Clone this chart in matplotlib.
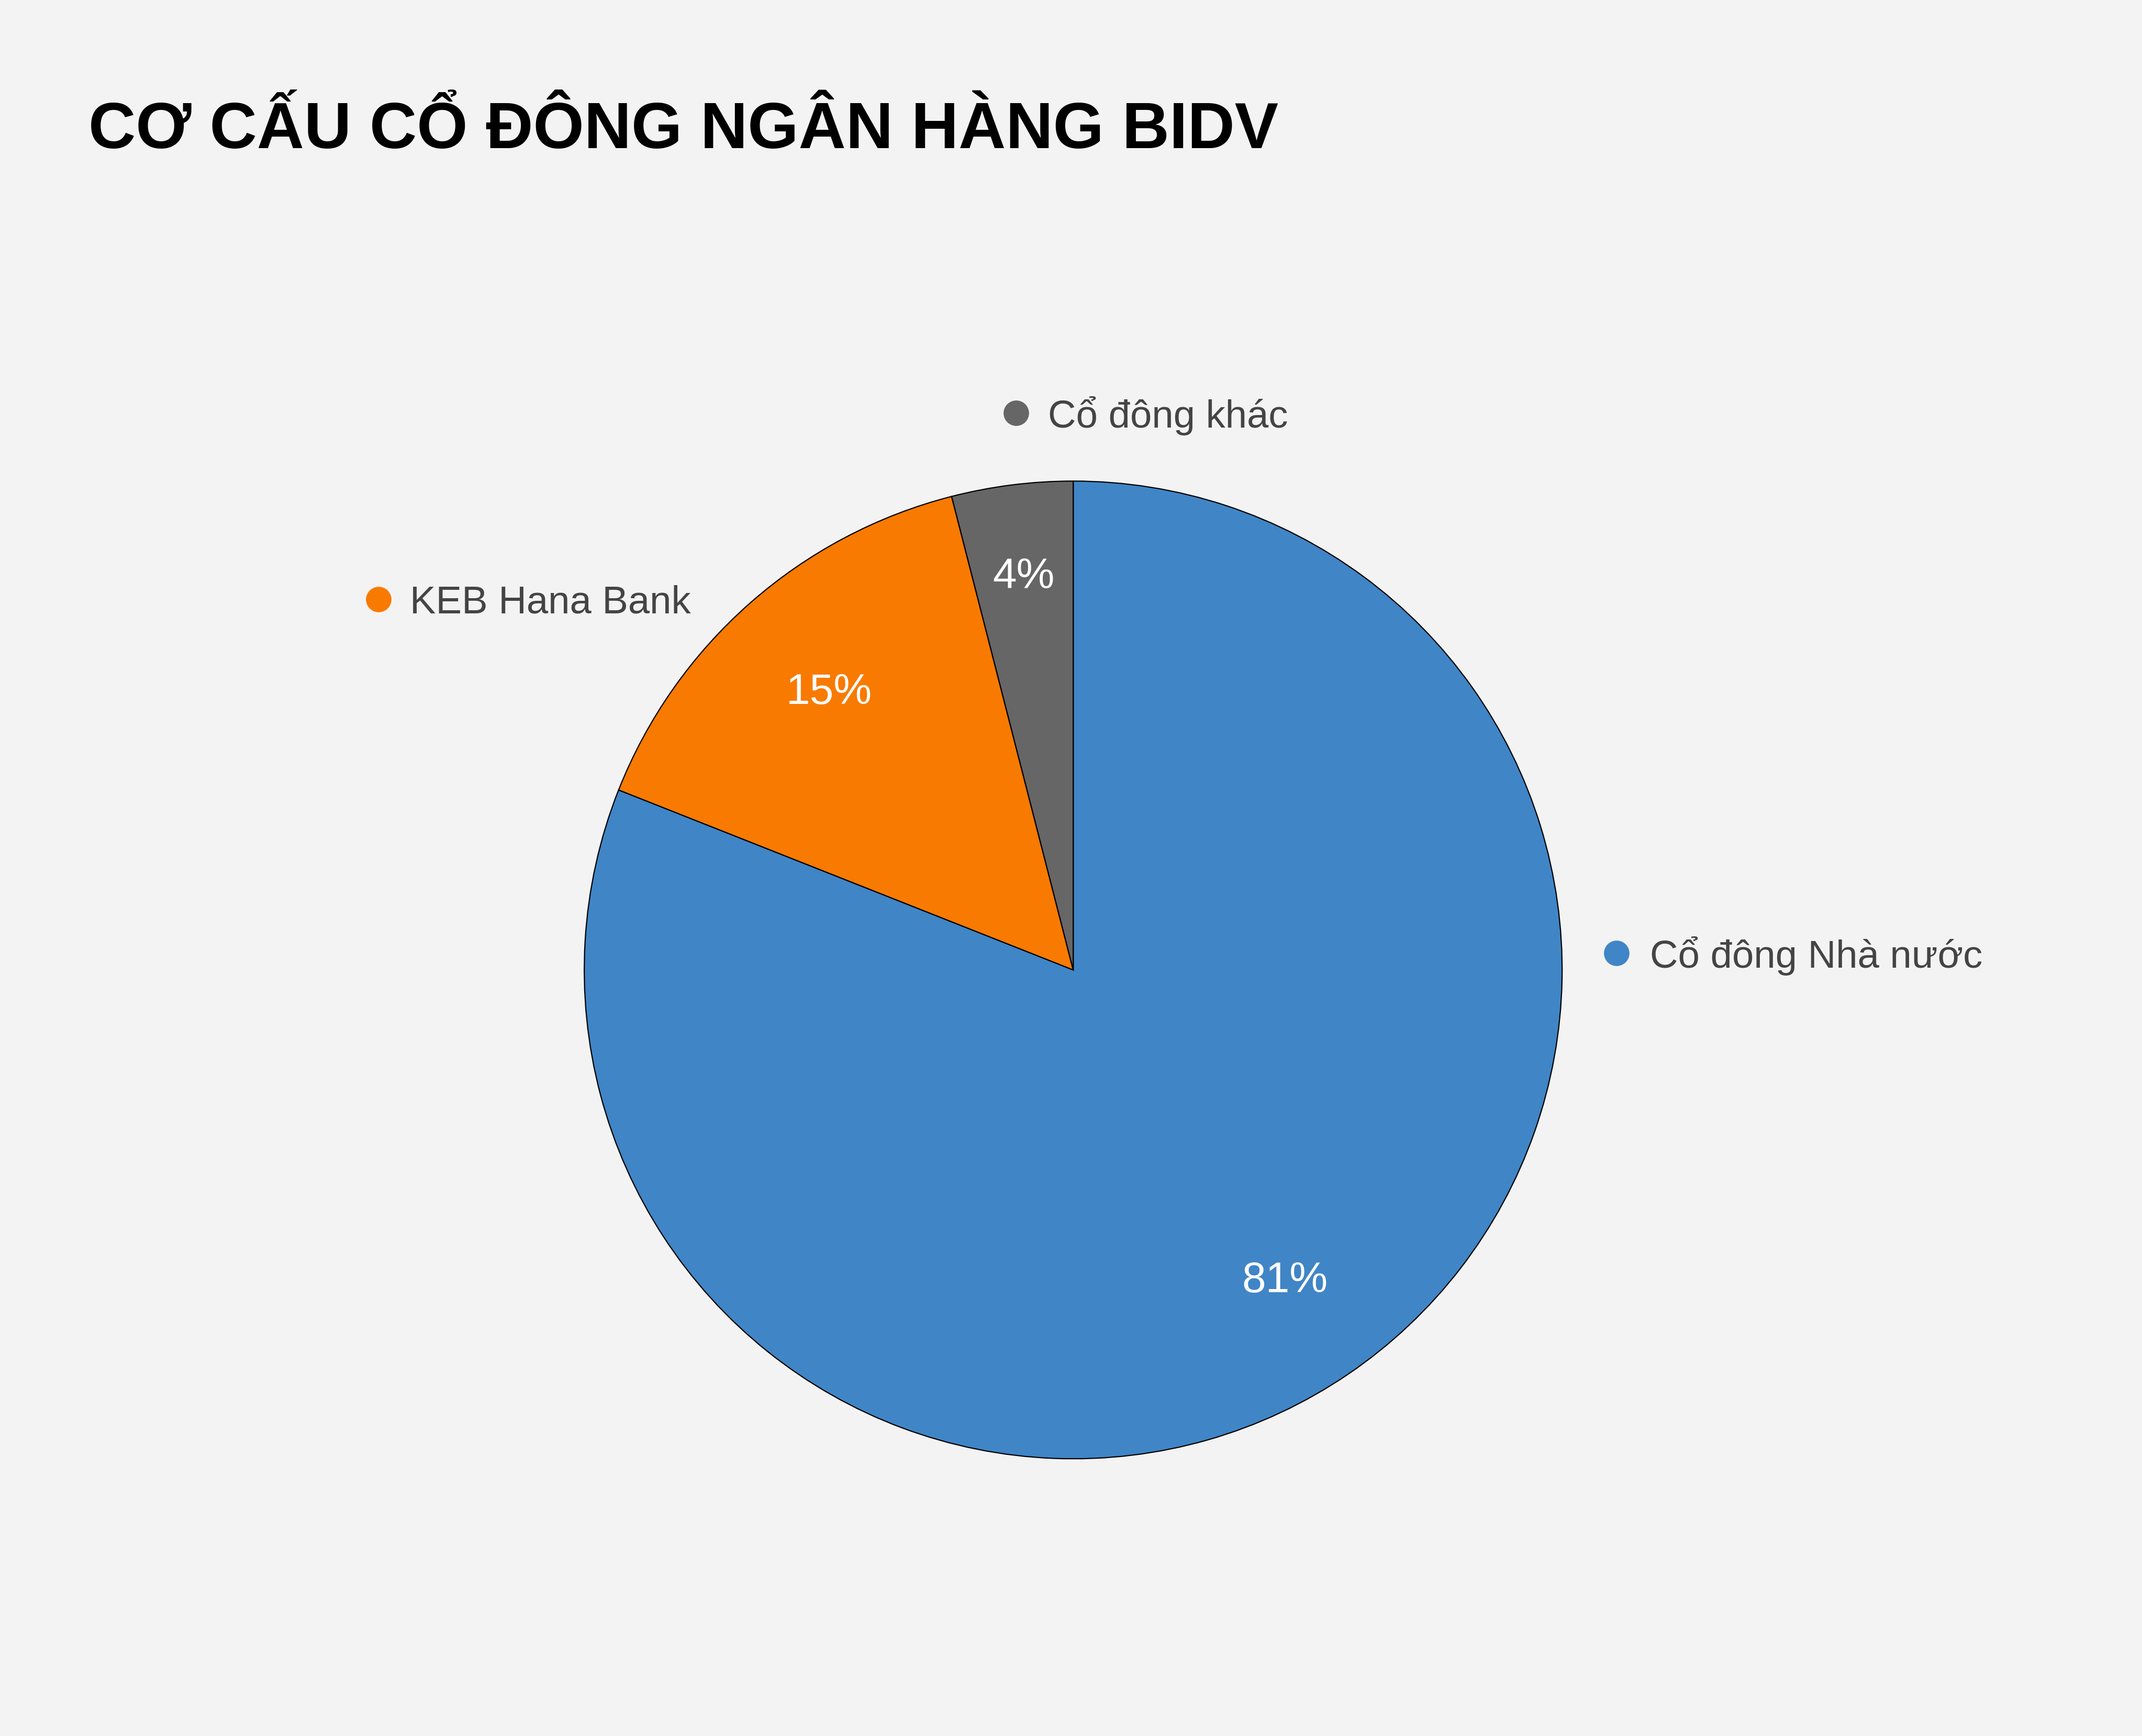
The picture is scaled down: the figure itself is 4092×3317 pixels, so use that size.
import numpy as np
import matplotlib.pyplot as plt

# Du lieu
nhom = ["Cổ đông Nhà nước", "KEB Hana Bank", "Cổ đông khác"]
ty_le = [81, 15, 4]
mau = ["#4085C6", "#F97A00", "#666666"]

# khoang cach nhan phan tram tu tam (theo ban kinh)
kc_phan_tram = [0.77, 0.755, 0.81]

# vi tri nhan (cham tron va chu) theo ban kinh pie = 1
vi_tri_cham = [(1.111, 0.034), (-1.421, 0.758), (-0.117, 1.139)]
vi_tri_chu = [(1.180, 0.005), (-1.357, 0.730), (-0.052, 1.109)]

plt.rcParams['font.family'] = ['Liberation Sans', 'DejaVu Sans']

fig = plt.figure(figsize=(40.92, 33.17), dpi=100, facecolor="#F3F3F3")
ax = fig.add_axes([0, 0, 1, 1])
ax.set_facecolor("#F3F3F3")

wedges, texts, autotexts = ax.pie(
    ty_le, colors=mau, startangle=90, counterclock=False,
    autopct=lambda p: f"{p:.0f}%", pctdistance=0.78,
    wedgeprops=dict(edgecolor="black", linewidth=1.6),
    textprops=dict(color="white", fontsize=59))

# dat lai vi tri nhan phan tram
for w, t, d in zip(wedges, autotexts, kc_phan_tram):
    goc = np.deg2rad((w.theta1 + w.theta2) / 2)
    t.set_position((d * np.cos(goc), d * np.sin(goc)))

ax.set_xlim(-2.195, 2.186)
ax.set_ylim(-1.567, 1.984)
ax.set_aspect('equal')
ax.axis('off')

for ten, c, (cx, cy), (tx, ty) in zip(nhom, mau, vi_tri_cham, vi_tri_chu):
    ax.plot(cx, cy, 'o', color=c, markersize=34)
    ax.text(tx, ty, ten, fontsize=53.5, color="#444444", va='baseline', ha='left')

fig.text(169 / 4092, 1 - 283 / 3317, "CƠ CẤU CỔ ĐÔNG NGÂN HÀNG BIDV",
         fontsize=90, fontweight='bold', color="black", va='baseline', ha='left')

fig.savefig("out.png", dpi=100, facecolor=fig.get_facecolor())
